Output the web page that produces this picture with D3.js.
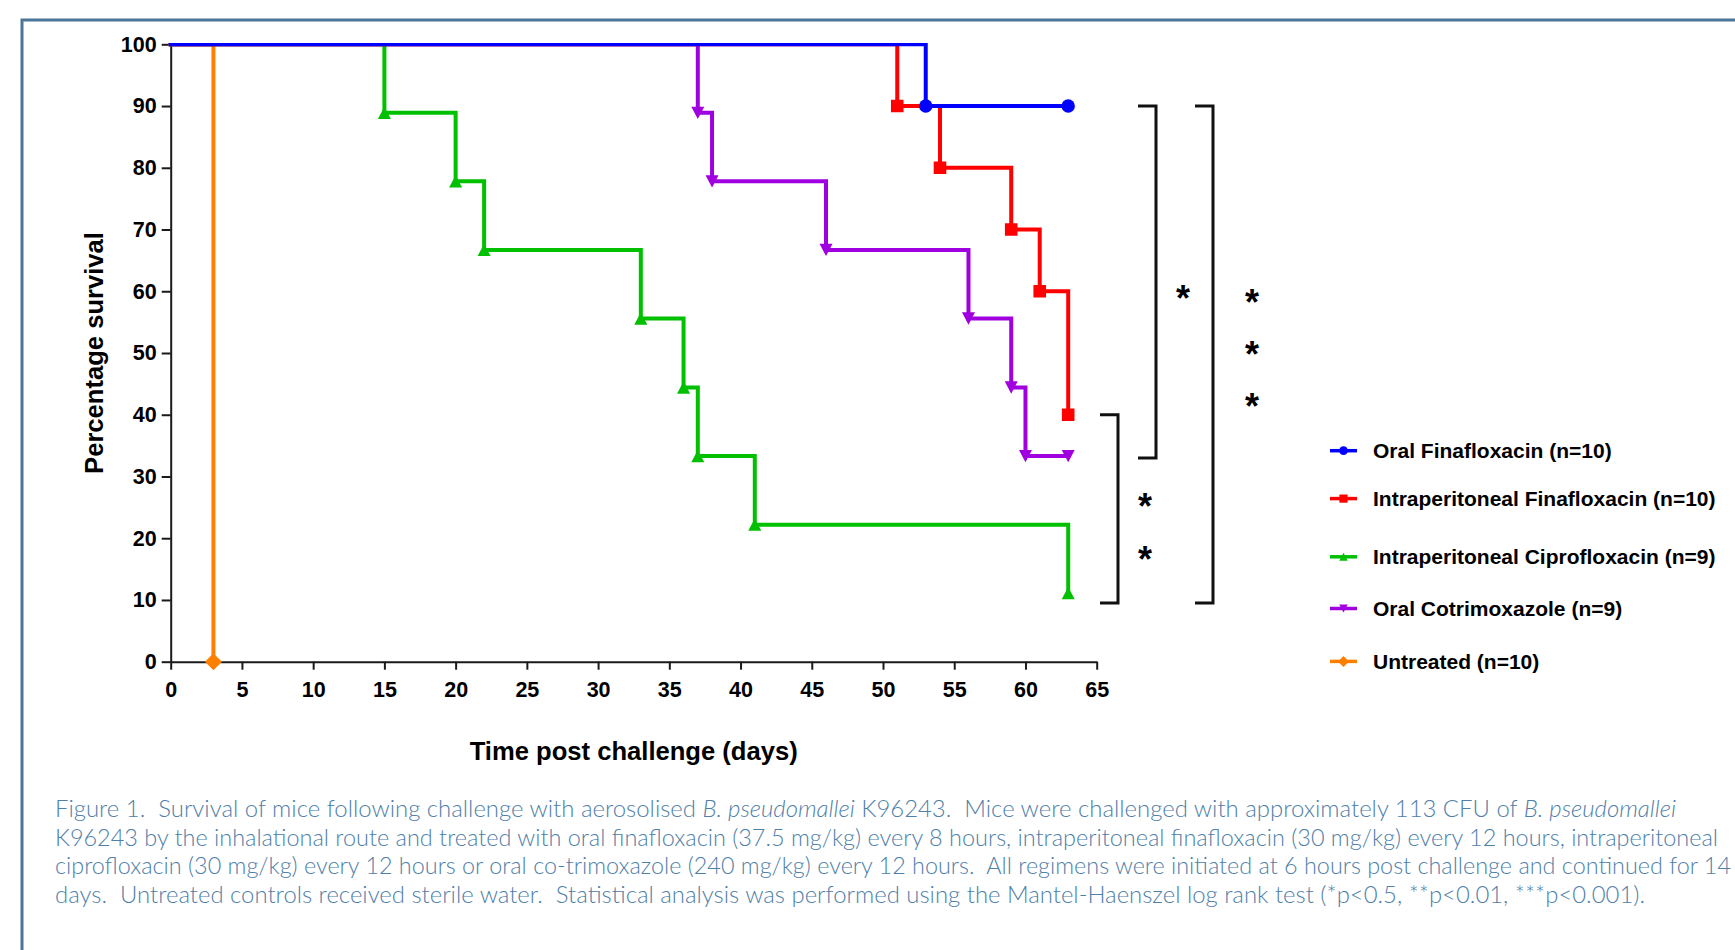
<!DOCTYPE html>
<html>
<head>
<meta charset="utf-8">
<script src="https://cdn.jsdelivr.net/npm/d3@7"></script>
<style>
  html, body { margin: 0; padding: 0; background: #ffffff; overflow: hidden; }
  svg { display: block; }
  .caption { white-space: pre; }
</style>
</head>
<body>
<svg id="chart" width="1735" height="950"></svg>
<script>
// ---------------- DATA ----------------
const seriesNames = [
  "Oral Finafloxacin (n=10)",
  "Intraperitoneal Finafloxacin (n=10)",
  "Intraperitoneal Ciprofloxacin (n=9)",
  "Oral Cotrimoxazole (n=9)",
  "Untreated (n=10)"
];
const seriesColors = ["#0000ff", "#ff0000", "#00c000", "#a000e0", "#ff8000"];
const seriesSymbols = ["circle", "square", "triangleUp", "triangleDown", "diamond"];

const oralFinTimes = [0, 53, 63];
const oralFinSurvival = [100, 90, 90];
const ipFinTimes = [0, 51, 54, 59, 61, 63];
const ipFinSurvival = [100, 90, 80, 70, 60, 40];
const ipCiproTimes = [0, 15, 20, 22, 33, 36, 37, 41, 63];
const ipCiproSurvival = [100, 88.9, 77.8, 66.7, 55.6, 44.4, 33.3, 22.2, 11.1];
const oralCotriTimes = [0, 37, 38, 46, 56, 59, 60, 63];
const oralCotriSurvival = [100, 88.9, 77.8, 66.7, 55.6, 44.4, 33.3, 33.3];
const untreatedTimes = [0, 3];
const untreatedSurvival = [100, 0];

const xTicks = [0, 5, 10, 15, 20, 25, 30, 35, 40, 45, 50, 55, 60, 65];
const yTicks = [0, 10, 20, 30, 40, 50, 60, 70, 80, 90, 100];
const xTitle = "Time post challenge (days)";
const yTitle = "Percentage survival";

// significance brackets (survival range spanned, and label)
const bracketTop = [90, 90, 40];
const bracketBottom = [33, 9.5, 9.5];
const bracketLabels = ["*", "***", "**"];

const captionLines = [
  [["Figure 1.  Survival of mice following challenge with aerosolised ", false], ["B. pseudomallei", true], [" K96243.  Mice were challenged with approximately 113 CFU of ", false], ["B. pseudomallei", true]],
  [["K96243 by the inhalational route and treated with oral finafloxacin (37.5 mg/kg) every 8 hours, intraperitoneal finafloxacin (30 mg/kg) every 12 hours, intraperitoneal", false]],
  [["ciprofloxacin (30 mg/kg) every 12 hours or oral co-trimoxazole (240 mg/kg) every 12 hours.  All regimens were initiated at 6 hours post challenge and continued for 14", false]],
  [["days.  Untreated controls received sterile water.  Statistical analysis was performed using the Mantel-Haenszel log rank test (*p<0.5, **p<0.01, ***p<0.001).", false]]
];

// ---------------- LAYOUT ----------------
const plot = { left: 170.7, right: 1096.7, top: 44.3, bottom: 661.7 };
const FONT = "'Liberation Sans', Arial, Helvetica, sans-serif";

const svg = d3.select("#chart");

// frame
svg.append("rect")
  .attr("x", 22).attr("y", 20).attr("width", 1800).attr("height", 1000)
  .attr("fill", "none").attr("stroke", "#4a7598").attr("stroke-width", 3);

const x = d3.scaleLinear().domain([0, 65]).range([plot.left, plot.right]);
const y = d3.scaleLinear().domain([0, 100]).range([plot.bottom, plot.top]);

// axes
const yAxis = svg.append("g")
  .attr("transform", `translate(${plot.left},0)`)
  .call(d3.axisLeft(y).tickValues(yTicks).tickSize(9).tickSizeOuter(0).tickPadding(5));
const xAxis = svg.append("g")
  .attr("transform", `translate(0,${plot.bottom})`)
  .call(d3.axisBottom(x).tickValues(xTicks).tickSize(8).tickSizeOuter(0).tickPadding(12));

[yAxis, xAxis].forEach(g => {
  g.select(".domain").attr("stroke", "#1a1a1a").attr("stroke-width", 2);
  g.selectAll(".tick line").attr("stroke", "#1a1a1a").attr("stroke-width", 2);
  g.selectAll(".tick text")
    .attr("fill", "#000").style("font-family", FONT)
    .style("font-weight", "bold").style("font-size", "21.5px");
});

// axis titles
svg.append("text")
  .attr("x", (plot.left + plot.right) / 2).attr("y", 760)
  .attr("text-anchor", "middle")
  .style("font-family", FONT).style("font-weight", "bold").style("font-size", "25.6px")
  .text(xTitle);
svg.append("text")
  .attr("transform", `translate(94,${(plot.top + plot.bottom) / 2}) rotate(-90)`)
  .attr("text-anchor", "middle").attr("dominant-baseline", "central")
  .style("font-family", FONT).style("font-weight", "bold").style("font-size", "25.6px")
  .text(yTitle);

// clip for series (top edge trims the 100% line)
svg.append("defs").append("clipPath").attr("id", "plotclip")
  .append("rect")
  .attr("x", plot.left - 20).attr("y", plot.top - 1.4)
  .attr("width", plot.right - plot.left + 60).attr("height", plot.bottom - plot.top + 40);

const series = [
  { t: oralFinTimes, s: oralFinSurvival },
  { t: ipFinTimes, s: ipFinSurvival },
  { t: ipCiproTimes, s: ipCiproSurvival },
  { t: oralCotriTimes, s: oralCotriSurvival },
  { t: untreatedTimes, s: untreatedSurvival }
].map((d, i) => ({
  name: seriesNames[i], color: seriesColors[i], symbol: seriesSymbols[i],
  pts: d.t.map((t, j) => [t, d.s[j]])
}));

function symbolPath(type, r) {
  switch (type) {
    case "circle": return d3.symbol(d3.symbolCircle, Math.PI * r * r)();
    case "square": return d3.symbol(d3.symbolSquare, (2 * r) * (2 * r))();
    case "diamond": return d3.symbol(d3.symbolSquare, (1.5 * r) * (1.5 * r))();
    case "triangleUp": return `M0,${-r}L${r * 1.05},${r}L${-r * 1.05},${r}Z`;
    case "triangleDown": return `M0,${r}L${r * 1.05},${-r}L${-r * 1.05},${-r}Z`;
  }
}
function symbolRotate(type) { return type === "diamond" ? " rotate(45)" : ""; }

const line = d3.line().x(d => x(d[0])).y(d => y(d[1])).curve(d3.curveStepAfter);
const sizes = { circle: 6.7, square: 6.3, triangleUp: 6.2, triangleDown: 6.2, diamond: 8 };

const drawOrder = [4, 3, 2, 1, 0];
const gSeries = svg.append("g").attr("clip-path", "url(#plotclip)");
drawOrder.forEach(i => {
  const s = series[i];
  const g = gSeries.append("g");
  g.append("path").attr("d", line(s.pts))
    .attr("fill", "none").attr("stroke", s.color).attr("stroke-width", 4)
    .attr("stroke-linejoin", "miter").attr("stroke-linecap", "square");
  g.selectAll("path.mk").data(s.pts.slice(1)).join("path")
    .attr("class", "mk")
    .attr("transform", d => `translate(${x(d[0])},${y(d[1])})` + symbolRotate(s.symbol))
    .attr("d", symbolPath(s.symbol, sizes[s.symbol]))
    .attr("fill", s.color);
});

// significance brackets
const bracketX = [1156, 1213, 1118];   // vertical stroke positions
const bracketArm = 18;
bracketTop.forEach((top, i) => {
  const bx = bracketX[i];
  svg.append("path")
    .attr("d", `M${bx - bracketArm},${y(top)}H${bx}V${y(bracketBottom[i])}H${bx - bracketArm}`)
    .attr("fill", "none").attr("stroke", "#111").attr("stroke-width", 3);
});
const starX = [1183, 1252, 1145];
const starCenters = [[292], [296, 348, 400], [500, 553]];
bracketLabels.forEach((lab, i) => {
  starCenters[i].forEach((cy, k) => {
    svg.append("text")
      .attr("x", starX[i]).attr("y", cy + 19)
      .attr("text-anchor", "middle")
      .style("font-family", FONT).style("font-weight", "bold").style("font-size", "36px")
      .text(lab.charAt(k));
  });
});

// legend
const legendX0 = 1330, legendX1 = 1357, legendTextX = 1373;
const legendRowY = [450.7, 498.6, 556.8, 608.5, 661.4];
series.forEach((s, i) => {
  const ly = legendRowY[i];
  const g = svg.append("g");
  g.append("line").attr("x1", legendX0).attr("x2", legendX1).attr("y1", ly).attr("y2", ly)
    .attr("stroke", s.color).attr("stroke-width", 3.5);
  g.append("path")
    .attr("transform", `translate(${(legendX0 + legendX1) / 2},${ly})` + symbolRotate(s.symbol))
    .attr("d", symbolPath(s.symbol, sizes[s.symbol] * 0.65))
    .attr("fill", s.color);
  g.append("text").attr("x", legendTextX).attr("y", ly).attr("dy", "0.36em")
    .style("font-family", FONT).style("font-weight", "bold").style("font-size", "21px")
    .text(s.name);
});

// caption
const capX = 55, capY0 = 816.7, capStep = 28.8;
const capTargets = [1621, 1663, 1676, 1590];
captionLines.forEach((segs, i) => {
  const t = svg.append("text").attr("class", "caption")
    .attr("xml:space", "preserve")
    .attr("x", capX).attr("y", capY0 + i * capStep)
    .attr("fill", "#4f80a8")
    .style("font-family", "Lato, 'Open Sans', 'Liberation Sans', sans-serif")
    .style("font-weight", "300").style("font-size", "23px")
    .attr("textLength", capTargets[i]).attr("lengthAdjust", "spacingAndGlyphs");
  segs.forEach(([txt, it]) => {
    t.append("tspan").style("font-style", it ? "italic" : "normal").text(txt);
  });
});
</script>
</body>
</html>
